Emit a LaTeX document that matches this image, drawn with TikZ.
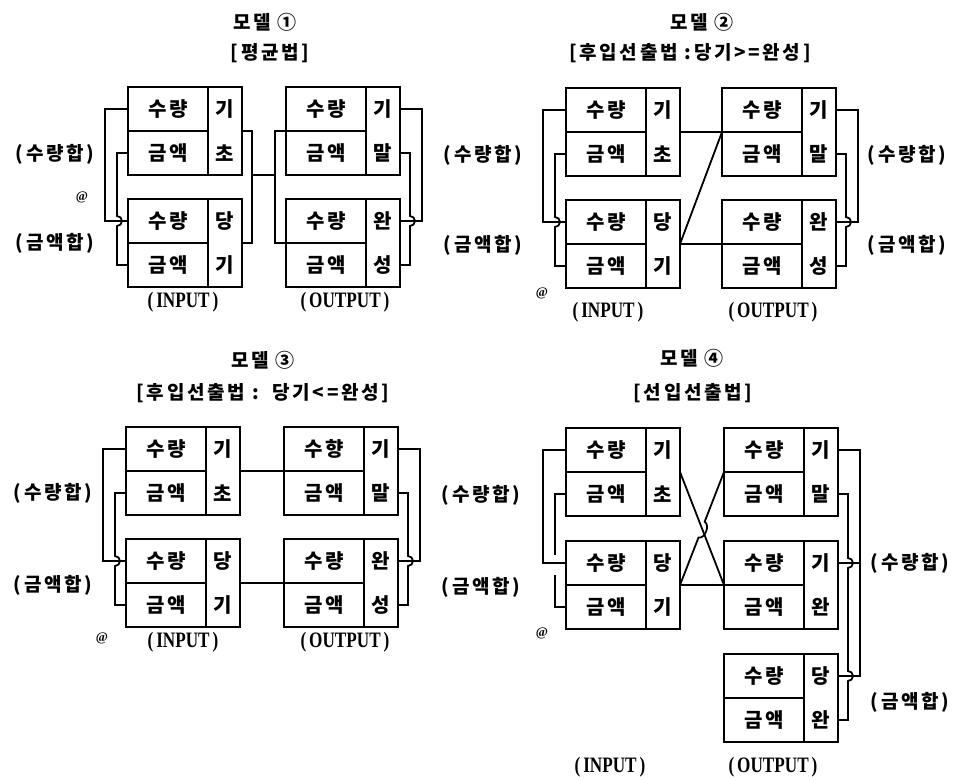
\documentclass[tikz,border=0pt]{standalone}
\usepackage{fontspec}
\setmainfont{Liberation Serif}
\newfontfamily\kr{Noto Sans CJK KR}[LetterSpace=14]
\usetikzlibrary{calc}

\newcommand{\acctbox}[7]{%
  \node[cell, anchor=north west] (#1-q) at (#2,-#3) {#4};
  \node[cell, anchor=north] (#1-a) at (#1-q.south) {#5};
  \node[colbox, anchor=north west] (#1-c) at (#1-q.north east) {};
  \node[coltext] (#1-c1) at (#1-c.center |- #1-q.center) {#6};
  \node[coltext] (#1-c2) at (#1-c.center |- #1-a.center) {#7};
  \coordinate (#1-ql) at (#1-q.west);
  \coordinate (#1-al) at (#1-a.west);
  \coordinate (#1-ml) at (#1-q.south west);
  \coordinate (#1-qr) at (#1-c.east |- #1-q.center);
  \coordinate (#1-ar) at (#1-c.east |- #1-a.center);
  \coordinate (#1-mr) at (#1-c.east);
}

\begin{document}
\begin{tikzpicture}[x=1pt, y=1pt,
    cell/.style={draw, line width=2.2pt, minimum width=80pt, minimum height=44pt, inner sep=0pt, outer sep=0pt, font=\kr\bfseries\fontsize{20}{20}\selectfont},
    colbox/.style={draw, line width=2.2pt, minimum width=34pt, minimum height=88pt, inner sep=0pt, outer sep=0pt},
    coltext/.style={font=\kr\bfseries\fontsize{20}{20}\selectfont, inner sep=0pt},
    link/.style={line width=1.8pt},
    heading/.style={font=\kr\bfseries\fontsize{19}{19}\selectfont},
    sumtext/.style={font=\kr\bfseries\fontsize{19}{19}\selectfont},
    iotext/.style={font=\bfseries\fontsize{22}{22}\selectfont},
    blot/.style={font=\bfseries\fontsize{13}{13}\selectfont}]
  \path[use as bounding box, fill=white] (0,0) rectangle (957,-779);

  % model 1
  \node[heading] (t1) at (265,-22) {모델 ①};
  \node[heading] (s1) at (270,-53) {[평균법]};
  \acctbox{i1t}{128}{87}{수량}{금액}{기}{초}
  \acctbox{i1b}{128}{199}{수량}{금액}{당}{기}
  \acctbox{o1t}{286}{87}{수량}{금액}{기}{말}
  \acctbox{o1b}{286}{199}{수량}{금액}{완}{성}
  \draw[link] (i1t-ql) -- ++(-23,0) |- (i1b-ql);
  \draw[link] (i1t-al) -| ($(i1b-ql)+(-11,5)$) arc[start angle=90, end angle=-90, radius=5pt] |- (i1b-al);
  \draw[link] (i1t-mr) -- ++(10,0) coordinate (j1a) |- (i1b-mr);
  \draw[link] (o1t-ml) -- ++(-11,0) coordinate (j1b) |- (o1b-ml);
  \draw[link] (j1a |- i1t-c.south) -- (j1b |- i1t-c.south);
  \draw[link] (o1t-qr) -- ++(22,0) |- (o1b-qr);
  \draw[link] (o1t-ar) -| ($(o1b-qr)+(10,5)$) arc[start angle=90, end angle=-90, radius=5pt] |- (o1b-ar);
  \node[sumtext] (q1) at (55,-154) {(수량합)};
  \node[sumtext] (m1) at (55,-243) {(금액합)};
  \node[iotext] (in1) at (183,-302) {\scalebox{0.78}[1]{(\,INPUT\,)}};
  \node[iotext] (out1) at (345,-302) {\scalebox{0.78}[1]{(\,OUTPUT\,)}};
  \node[blot] (b1) at (82,-197) {@};

  % shared labels between 1 and 2
  \node[sumtext] (q12) at (483,-155) {(수량합)};
  \node[sumtext] (m12) at (483,-245) {(금액합)};

  % model 2
  \node[heading] (t2) at (702,-22) {모델 ②};
  \node[heading] (s2) at (690,-53) {[후입선출법 :당기>=완성]};
  \acctbox{i2t}{566}{88}{수량}{금액}{기}{초}
  \acctbox{i2b}{566}{200}{수량}{금액}{당}{기}
  \acctbox{o2t}{722}{88}{수량}{금액}{기}{말}
  \acctbox{o2b}{722}{200}{수량}{금액}{완}{성}
  \draw[link] (i2t-ql) -- ++(-23,0) |- (i2b-ql);
  \draw[link] (i2t-al) -| ($(i2b-ql)+(-11,5)$) arc[start angle=90, end angle=-90, radius=5pt] |- (i2b-al);
  \draw[link] (i2t-mr) -- (o2t-ml);
  \draw[link] (i2b-mr) -- (o2t-ml);
  \draw[link] (i2b-mr) -- (o2b-ml);
  \draw[link] (o2t-qr) -- ++(22,0) |- (o2b-qr);
  \draw[link] (o2t-ar) -| ($(o2b-qr)+(10,5)$) arc[start angle=90, end angle=-90, radius=5pt] |- (o2b-ar);
  \node[sumtext] (q2) at (907,-155) {(수량합)};
  \node[sumtext] (m2) at (907,-245) {(금액합)};
  \node[iotext] (in2) at (608,-312) {\scalebox{0.78}[1]{(\,INPUT\,)}};
  \node[iotext] (out2) at (773,-312) {\scalebox{0.78}[1]{(\,OUTPUT\,)}};
  \node[blot] (b2) at (542,-293) {@};

  % model 3
  \node[heading] (t3) at (263,-360) {모델 ③};
  \node[heading] (s3) at (263,-393) {[후입선출법 :\ \ 당기<=완성]};
  \acctbox{i3t}{126}{427}{수량}{금액}{기}{초}
  \acctbox{i3b}{126}{539}{수량}{금액}{당}{기}
  \acctbox{o3t}{284}{427}{수향}{금액}{기}{말}
  \acctbox{o3b}{284}{539}{수량}{금액}{완}{성}
  \draw[link] (i3t-ql) -- ++(-23,0) |- (i3b-ql);
  \draw[link] (i3t-al) -| ($(i3b-ql)+(-11,5)$) arc[start angle=90, end angle=-90, radius=5pt] |- (i3b-al);
  \draw[link] (i3t-mr) -- (o3t-ml);
  \draw[link] (i3b-mr) -- (o3b-ml);
  \draw[link] (o3t-qr) -- ++(22,0) |- (o3b-qr);
  \draw[link] (o3t-ar) -| ($(o3b-qr)+(10,5)$) arc[start angle=90, end angle=-90, radius=5pt] |- (o3b-ar);
  \node[sumtext] (q3) at (53,-493) {(수량합)};
  \node[sumtext] (m3) at (53,-585) {(금액합)};
  \node[iotext] (in3) at (183,-642) {\scalebox{0.78}[1]{(\,INPUT\,)}};
  \node[iotext] (out3) at (345,-642) {\scalebox{0.78}[1]{(\,OUTPUT\,)}};
  \node[blot] (b3) at (102,-638) {@};

  % shared labels between 3 and 4
  \node[sumtext] (q34) at (481,-495) {(수량합)};
  \node[sumtext] (m34) at (481,-587) {(금액합)};

  % model 4
  \node[heading] (t4) at (692,-358) {모델 ④};
  \node[heading] (s4) at (693,-393) {[선입선출법]};
  \acctbox{i4t}{566}{428}{수량}{금액}{기}{초}
  \acctbox{i4b}{566}{541}{수량}{금액}{당}{기}
  \acctbox{o4t}{724}{428}{수량}{금액}{기}{말}
  \acctbox{o4m}{724}{541}{수량}{금액}{기}{완}
  \acctbox{o4b}{724}{654}{수량}{금액}{당}{완}
  \draw[link] (i4t-ql) -- ++(-23,0) |- (i4b-ql);
  \draw[link] (i4t-al) -| ($(i4b-ql)+(-11,8)$);
  \draw[link] ($(i4b-ql)+(-11,-12)$) |- (i4b-al);
  \draw[link] (i4t-mr) -- (o4m-ml);
  \draw[link] (i4b-mr) -- ($(i4b-mr)!0.42!(o4t-ml)$) to[bend right=80] ($(i4b-mr)!0.56!(o4t-ml)$) -- (o4t-ml);
  \draw[link] (i4b-mr) -- (o4m-ml);
  \draw[link] (o4t-qr) -- ++(22,0) coordinate (r4) |- (o4b-qr);
  \draw[link] (o4m-qr) -- (r4 |- o4m-qr);
  \draw[link] (o4t-ar) -| ($(o4m-qr)+(10,5)$) arc[start angle=90, end angle=-90, radius=5pt] -- ($(o4b-qr)+(10,5)$) arc[start angle=90, end angle=-90, radius=5pt] |- (o4b-ar);
  \node[sumtext] (q4) at (910,-563) {(수량합)};
  \node[sumtext] (m4) at (910,-702) {(금액합)};
  \node[iotext] (in4) at (610,-767) {\scalebox{0.78}[1]{(\,INPUT\,)}};
  \node[iotext] (out4) at (773,-767) {\scalebox{0.78}[1]{(\,OUTPUT\,)}};
  \node[blot] (b4) at (542,-633) {@};
\end{tikzpicture}
\end{document}
